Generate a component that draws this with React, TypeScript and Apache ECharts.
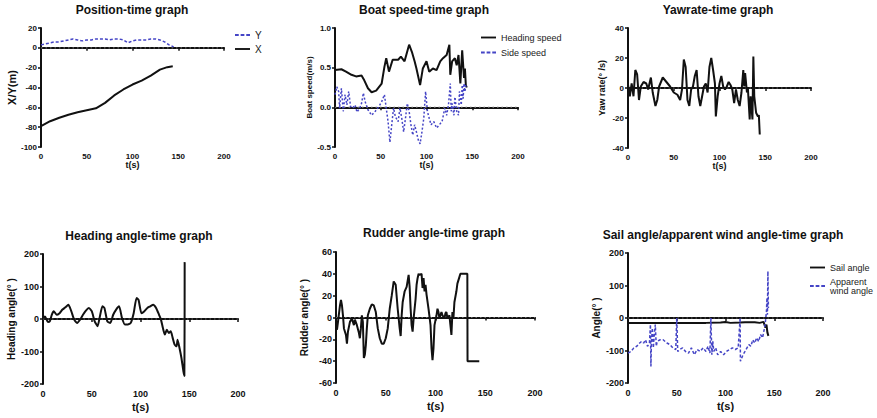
import React, { useEffect, useRef } from 'react';
import * as echarts from 'echarts';

// ---------- Data ----------
// Position-time
const posXT = [0, 10, 20, 30, 40, 50, 60, 70, 80, 90, 100, 110, 120, 130, 138, 144];
const posX = [-79, -74, -70.5, -67.5, -65, -63, -61, -55.5, -48, -42, -37, -33, -28, -22, -19.5, -18.5];
const posYT = [0, 5, 10, 15, 20, 25, 30, 35, 40, 45, 50, 55, 60, 65, 70, 75, 80, 85, 90, 95, 100, 105, 110, 115, 120, 125, 130, 135, 140, 145];
const posY = [3, 4, 5, 6, 6, 7, 8, 9, 8, 7, 8, 8, 9, 9, 9, 8, 9, 9, 8, 5, 7, 8, 8, 8, 9, 9, 8, 6, 3, 1];

// Boat speed-time
const headSpT = [0, 7, 12, 18, 23, 29, 32, 36, 40, 45, 51, 54, 56, 59, 63, 69, 72, 76, 81, 84, 87, 89, 93, 96, 100, 103, 107, 111, 115, 118, 122, 125, 126, 128, 131, 133, 135, 137, 139, 141, 142, 143, 144];
const headSp = [0.47, 0.48, 0.45, 0.41, 0.39, 0.40, 0.34, 0.24, 0.19, 0.21, 0.30, 0.51, 0.62, 0.45, 0.60, 0.60, 0.64, 0.58, 0.79, 0.70, 0.58, 0.49, 0.28, 0.49, 0.58, 0.45, 0.49, 0.47, 0.58, 0.62, 0.66, 0.79, 0.41, 0.58, 0.62, 0.53, 0.66, 0.30, 0.72, 0.37, 0.49, 0.28, 0.25];
const sideSpT = [0, 2, 4, 5, 7, 9, 11, 13, 15, 17, 19, 22, 24, 27, 29, 31, 33, 36, 40, 44, 48, 51, 54, 56, 58, 60, 62, 64, 66, 69, 71, 73, 75, 77, 79, 81, 83, 85, 87, 89, 91, 93, 95, 97, 99, 101, 103, 105, 108, 111, 114, 117, 120, 122, 124, 126, 127, 128, 130, 131, 133, 135, 136, 138, 139, 140, 141, 142, 143];
const sideSp = [0.16, 0.26, 0.2, -0.01, 0.24, -0.05, 0.16, 0.03, 0.2, 0.01, -0.01, 0.03, -0.06, -0.01, 0.05, 0.18, 0.07, -0.03, -0.1, -0.05, 0.01, 0.07, 0.16, -0.01, -0.18, -0.44, -0.22, -0.01, -0.12, -0.18, -0.01, -0.14, -0.31, -0.14, 0.05, -0.05, -0.22, -0.35, -0.22, -0.31, -0.41, -0.46, -0.31, -0.14, 0.2, -0.05, -0.14, -0.22, -0.18, -0.26, -0.22, -0.18, -0.01, -0.1, 0.03, 0.3, -0.05, 0.05, -0.1, 0.13, -0.05, -0.1, 0.2, 0.03, 0.28, 0.11, 0.3, 0.2, 0.28];

// Yaw rate-time
const yawT = [0, 2, 4, 6, 8, 10, 12, 14, 17, 20, 22, 25, 27, 30, 32, 34, 38, 42, 46, 50, 54, 57, 59, 61, 63, 65, 67, 69, 71, 73, 75, 77, 79, 81, 83, 85, 87, 89, 91, 93, 95, 96, 98, 100, 102, 104, 106, 108, 110, 112, 114, 116, 118, 120, 122, 124, 126, 127, 128, 130, 131, 133, 134, 136, 137, 138, 140, 142, 143, 144];
const yawV = [2, -5.5, 3, -5.5, 12, 9, -8, 1, 4, 3, -1, 7, -3, -12, -8, 1, 7, 4, 1, -3, -4.5, -8, -1, 19, 14, -8, -12, -1, 1, 8, 12, -5.5, -12, -5.5, 1, 3, -3, 14, 20, 12, 3, -19, -5.5, 3, 8, 1, -1, 1, 4, 2, -1, -10, -1, -8, -12, -3, 12, 1, 10, -3, 0, -21, -5.5, -21, 21, -5.5, -16.5, -19, -18, -31];

// Heading angle-time
const headingT = [0, 2, 5, 7, 9, 11, 14, 17, 20, 23, 26, 29, 32, 35, 38, 41, 44, 47, 50, 53, 56, 58, 61, 63, 66, 69, 72, 75, 78, 81, 84, 87, 90, 93, 96, 98, 101, 104, 107, 110, 113, 116, 119, 121, 123, 125, 127, 129, 131, 133, 135, 137, 138, 140, 142, 144, 145, 145.3];
const headingV = [3, 8, -9, -7, 13, 24, 13, 18, 29, 36, 44, 24, -2, -12, -2, 13, 26, 34, 24, -7, -22, 3, 39, 34, -7, -12, 13, 29, 39, 3, -17, -17, -12, 18, 65, 59, 18, 24, 34, 39, 44, 34, 13, -2, -28, -48, -33, -43, -38, -58, -79, -84, -64, -89, -120, -161, -175, 175];

// Rudder angle-time
const rudderT = [0, 1, 2, 4, 5, 6, 7, 8, 10, 11, 12, 14, 16, 18, 19, 21, 23, 24, 25, 26, 27, 28, 29, 30, 31, 32, 34, 36, 38, 40, 42, 44, 46, 48, 50, 52, 54, 56, 58, 60, 62, 64, 65, 66, 67, 69, 71, 73, 74, 75, 76, 77, 78, 79, 80, 81, 82, 83, 84, 86, 87, 88, 89, 90, 91, 93, 95, 96, 97, 98, 99, 101, 102, 103, 104, 106, 107, 109, 110, 111, 112, 114, 115, 116, 117, 118, 119, 121, 122, 124, 125, 131, 132, 132.2, 144];
const rudderV = [-10, -11, -4, 11, 16, 11, 2, -10, -16, -24, -13, -4, -1, -7, -2, -7, -14, -19, -10, 2, -4, -37, -34, -25, -10, 2, 8, 12, 11, 5, -10, -19, -24, -24, -19, -10, 8, 20, 33, 30, 8, -10, -17, 2, 14, 24, 28, 39, 28, 8, -7, -13, -1, 8, 17, 30, 36, 40, 39, 40, 27, 36, 24, 30, 21, 8, -7, -28, -39, -28, -7, 2, 8, 5, -1, 5, 2, -1, 4, 5, -1, 2, -7, -16, 5, -1, 14, 24, 31, 37, 40, 40, 40, -40, -40];

// Sail angle / apparent wind angle-time
const sailT = [0, 20, 40, 60, 80, 95, 100, 105, 115, 120, 130, 135, 139, 141, 142, 143, 144];
const sailV = [-15, -15, -15, -15, -15, -14, -12, -15, -14, -13, -13, -15, -12, -30, -20, -45, -55];
const windT = [0, 3, 6, 9, 12, 14, 16, 18, 20, 22, 23, 23.5, 24, 25, 26, 27, 28, 29, 30, 33, 36, 40, 43, 46, 49, 50, 51, 53, 56, 59, 62, 65, 68, 71, 74, 77, 80, 82, 84, 85, 86, 87, 88, 90, 92, 95, 98, 101, 104, 107, 110, 113, 115, 115.3, 118, 120, 122, 124, 126, 128, 130, 132, 134, 136, 138, 140, 141, 142, 142.5, 143, 143.5, 144];
const windV = [-108, -103, -92, -87, -77, -72, -77, -67, -87, -77, -20, -149, -72, -31, -92, -51, -20, -87, -72, -67, -67, -77, -82, -92, -97, 0, -103, -97, -92, -103, -108, -92, -113, -97, -103, -92, -103, -87, -108, 0, -113, -72, -103, -92, -113, -103, -113, -103, -97, -92, -97, -92, 0, -133, -113, -103, -92, -82, -87, -67, -77, -61, -72, -51, -61, -31, -10, 20, 62, 10, 144, 31];

// Zero reference line (t range of each panel)
const zeroT = [0, 200];
const zeroV = [0, 0];

const xTicks = [0, 50, 100, 150, 200];

const titles = [
  'Position-time graph',
  'Boat speed-time graph',
  'Yawrate-time graph',
  'Heading angle-time graph',
  'Rudder angle-time graph',
  'Sail angle/apparent wind angle-time graph',
];
const yNames = ['X/Y(m)', 'Boat speed(m/s)', 'Yaw rate(° /s)', 'Heading angle(° )', 'Rudder angle(° )', 'Angle(° )'];
const yRanges = [
  [-100, 20, 20],
  [-0.5, 1.0, 0.5],
  [-40, 40, 20],
  [-200, 200, 100],
  [-60, 60, 20],
  [-200, 200, 100],
];

// ---------- Layout (styles) ----------
const grids = [
  { left: 41, top: 28, width: 183, height: 119 },
  { left: 335, top: 28, width: 183, height: 119 },
  { left: 628, top: 28, width: 183, height: 120 },
  { left: 43, top: 254, width: 195, height: 130 },
  { left: 336, top: 252, width: 199, height: 131 },
  { left: 628, top: 253, width: 195, height: 130 },
];
const titlePos = [
  [132, 10], [424, 10], [718, 10], [139, 236], [434, 233], [723, 235],
];
const yNameSize = [11, 8, 9, 10, 10, 10];
const yNameGap = [22, 22, 22, 27, 27, 27];

const BLUE = '#4545c6';
const BLACK = '#111';
const FONT = '"Liberation Sans", Arial, sans-serif';
const ICON_SOLID = 'path://M0,0h16v2h-16z';
const ICON_DASH = 'path://M0,0h4v2h-4zM6,0h4v2h-4zM12,0h4v2h-4z';

function pairs(t: number[], v: number[]) {
  return t.map((x, i) => [x, v[i]]);
}

export default function App() {
  const ref = useRef<HTMLDivElement>(null);
  useEffect(() => {
    document.body.style.margin = '0';
    const chart = echarts.init(ref.current!, null, { renderer: 'svg' });

    const xAxis = grids.map((_, i) => {
      const big = i >= 3;
      return {
        type: 'value',
        gridIndex: i,
        min: 0,
        max: 200,
        interval: 50,
        name: 't(s)',
        nameLocation: 'middle',
        nameGap: big ? 17 : 13,
        nameTextStyle: { fontSize: big ? 11 : 9, fontWeight: 'bold', color: BLACK, fontFamily: FONT },
        axisLine: { lineStyle: { color: BLACK, width: 2 } },
        axisTick: { show: true, length: 3, lineStyle: { color: BLACK, width: 1.5 } },
        axisLabel: {
          fontSize: big ? 9 : 8, fontWeight: 'bold', color: BLACK, margin: 5, fontFamily: FONT,
          formatter: (v: number) => (xTicks.includes(v) ? String(v) : ''),
        },
        splitLine: { show: false },
      };
    });

    const yAxis = grids.map((_, i) => {
      const big = i >= 3;
      const [mn, mx, iv] = yRanges[i];
      return {
        type: 'value',
        gridIndex: i,
        min: mn,
        max: mx,
        interval: iv,
        name: yNames[i],
        nameLocation: 'middle',
        nameGap: yNameGap[i],
        nameTextStyle: { fontSize: yNameSize[i], fontWeight: 'bold', color: BLACK, fontFamily: FONT },
        axisLine: { show: true, lineStyle: { color: BLACK, width: 2 } },
        axisTick: { show: true, length: 3, lineStyle: { color: BLACK, width: 1.5 } },
        axisLabel: {
          fontSize: big ? 9 : 8, fontWeight: 'bold', color: BLACK, margin: 4, fontFamily: FONT,
          formatter: (v: number) => (i === 1 ? v.toFixed(1) : String(v)),
        },
        splitLine: { show: false },
      };
    });

    const zeroSeries = grids.map((_, i) => ({
      type: 'line',
      name: `zero${i}`,
      xAxisIndex: i,
      yAxisIndex: i,
      data: pairs(zeroT, zeroV),
      showSymbol: false,
      symbol: 'none',
      silent: true,
      z: 1,
      lineStyle: { color: '#666', width: 1.2, type: [1.5, 3] },
      itemStyle: { color: '#666' },
    }));

    const solid = (name: string, idx: number, data: number[][], extra: any = {}) => ({
      type: 'line',
      name,
      xAxisIndex: idx,
      yAxisIndex: idx,
      data,
      showSymbol: false,
      symbol: 'none',
      z: 3,
      lineStyle: { color: BLACK, width: 2 },
      itemStyle: { color: BLACK },
      ...extra,
    });
    const dashed = (name: string, idx: number, data: number[][], extra: any = {}) => ({
      type: 'line',
      name,
      xAxisIndex: idx,
      yAxisIndex: idx,
      data,
      showSymbol: false,
      symbol: 'none',
      z: 3,
      lineStyle: { color: BLUE, width: 1.5, type: [3, 2] },
      itemStyle: { color: BLUE },
      ...extra,
    });

    const series: any[] = [
      ...zeroSeries,
      dashed('Y', 0, pairs(posYT, posY)),
      solid('X', 0, pairs(posXT, posX)),
      solid('Heading speed', 1, pairs(headSpT, headSp)),
      dashed('Side speed', 1, pairs(sideSpT, sideSp), { lineStyle: { color: BLUE, width: 1.5, type: [2, 2] } }),
      solid('Yaw rate', 2, pairs(yawT, yawV)),
      solid('Heading angle', 3, pairs(headingT, headingV), { smooth: 0.2 }),
      solid('Rudder angle', 4, pairs(rudderT, rudderV)),
      solid('Sail angle', 5, pairs(sailT, sailV)),
      dashed('Apparent\nwind angle', 5, pairs(windT, windV)),
    ];

    const legendBase = {
      orient: 'vertical',
      itemWidth: 15,
      itemHeight: 2,
      itemGap: 5,
      padding: 0,
      selectedMode: false,
      textStyle: { fontSize: 9, color: '#222', fontFamily: FONT },
    };

    const option: any = {
      animation: false,
      textStyle: { fontFamily: FONT },
      grid: grids.map((g) => ({ ...g, containLabel: false })),
      xAxis,
      yAxis,
      series,
      legend: [
        {
          ...legendBase, left: 235, top: 30, itemGap: 4,
          textStyle: { ...legendBase.textStyle, fontSize: 10 },
          data: [{ name: 'Y', icon: ICON_DASH }, { name: 'X', icon: ICON_SOLID }],
        },
        {
          ...legendBase, left: 481, top: 33, itemGap: 6,
          data: [{ name: 'Heading speed', icon: ICON_SOLID }, { name: 'Side speed', icon: ICON_DASH }],
        },
        {
          ...legendBase, left: 810, top: 263,
          data: [{ name: 'Sail angle', icon: ICON_SOLID }, { name: 'Apparent\nwind angle', icon: ICON_DASH }],
        },
      ],
      graphic: titles.map((t, i) => ({
        type: 'text',
        x: titlePos[i][0],
        y: titlePos[i][1],
        style: {
          text: t,
          textAlign: 'center',
          textVerticalAlign: 'middle',
          font: `bold 12px ${FONT}`,
          fill: BLACK,
        },
      })),
    };

    chart.setOption(option);
    return () => chart.dispose();
  }, []);

  return <div ref={ref} style={{ width: 877, height: 418 }} />;
}
